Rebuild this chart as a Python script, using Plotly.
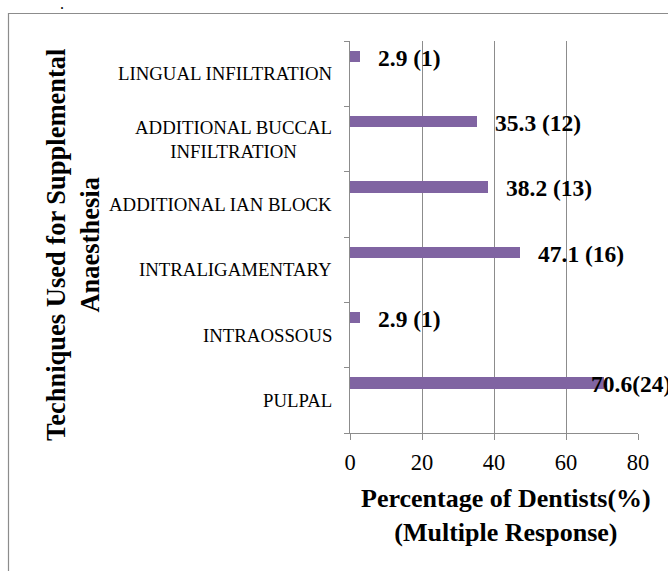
import plotly.graph_objects as go

categories = ["PULPAL", "INTRAOSSOUS", "INTRALIGAMENTARY", "ADDITIONAL IAN BLOCK",
              "ADDITIONAL BUCCAL<br>INFILTRATION", "LINGUAL INFILTRATION"]
values = [70.6, 2.9, 47.1, 38.2, 35.3, 2.9]
labels = ["70.6(24)", "2.9 (1)", "47.1 (16)", "38.2 (13)", "35.3 (12)", "2.9 (1)"]
label_shift = [-15, 16, 16, 16, 16, 16]
x_ticks = [0, 20, 40, 60, 80]

FONT = "Liberation Serif, Times New Roman, serif"
W, H = 668, 571
L, R, T, B = 350, 30, 41, 138
PW, PH = W - L - R, H - T - B

def px_x(p):
    return (p - L) / PW

def px_y(p):
    return (H - B - p) / PH

fig = go.Figure()
fig.add_trace(go.Bar(
    y=categories, x=values, orientation="h",
    marker=dict(color="#8064A2", line=dict(width=0)),
    width=0.17, offset=0.18, showlegend=False, hoverinfo="x+y",
))

annotations = []
for c, v, t, s in zip(categories, values, labels, label_shift):
    annotations.append(dict(
        x=v, y=c, xref="x", yref="y", text="<b>" + t + "</b>", showarrow=False,
        xanchor="left", yanchor="middle", xshift=s, yshift=16,
        font=dict(family=FONT, size=23.5, color="black"),
    ))
    annotations.append(dict(
        x=px_x(334), y=c, xref="paper", yref="y", text=c, showarrow=False,
        xanchor="right", yanchor="middle", align="center",
        font=dict(family=FONT, size=18.8, color="black"),
    ))

annotations.append(dict(
    x=px_x(506), y=px_y(515), xref="paper", yref="paper",
    text="<b>Percentage of Dentists(%)</b><br><b>(Multiple Response)</b>",
    showarrow=False, xanchor="center", yanchor="middle", align="center",
    font=dict(family=FONT, size=26, color="black"),
))
annotations.append(dict(
    x=px_x(73), y=px_y(245), xref="paper", yref="paper",
    text="<b>Techniques Used for Supplemental</b><br><b>Anaesthesia</b>",
    showarrow=False, xanchor="center", yanchor="middle", align="center",
    textangle=-90,
    font=dict(family=FONT, size=26.5, color="black"),
))
annotations.append(dict(
    x=px_x(62), y=px_y(0), xref="paper", yref="paper", text=".",
    showarrow=False, xanchor="center", yanchor="top", yshift=7,
    font=dict(family=FONT, size=16, color="black"),
))

fig.update_layout(
    width=W, height=H,
    margin=dict(l=L, r=R, t=T, b=B, pad=0),
    paper_bgcolor="white", plot_bgcolor="white",
    annotations=annotations,
    shapes=[dict(type="rect", xref="paper", yref="paper",
                 x0=px_x(8.5), x1=px_x(690), y0=px_y(600), y1=px_y(13.5),
                 line=dict(color="#8c8c8c", width=1.2), layer="below")],
    xaxis=dict(
        range=[0, 80], tickvals=x_ticks, ticktext=[str(v) for v in x_ticks],
        showgrid=True, gridcolor="#8c8c8c", gridwidth=1.3,
        showline=True, linecolor="#8c8c8c", linewidth=1.3,
        ticks="outside", ticklen=6, tickcolor="#8c8c8c", tickwidth=1.3,
        zeroline=False,
        tickfont=dict(family=FONT, size=22.5, color="black"),
        ticklabelstandoff=3,
    ),
    yaxis=dict(
        type="category", categoryorder="array", categoryarray=categories,
        range=[-0.5, 5.5], showticklabels=False, showgrid=False,
        showline=True, linecolor="#8c8c8c", linewidth=1.3,
        ticks="outside", ticklen=5, tickcolor="#8c8c8c", tickwidth=1.3,
        tickson="boundaries", zeroline=False,
    ),
    bargap=0,
)

fig.write_html(
    "out.html",
    config={"displayModeBar": False},
    post_script="document.body.style.margin='0';document.body.style.padding='0';",
)
